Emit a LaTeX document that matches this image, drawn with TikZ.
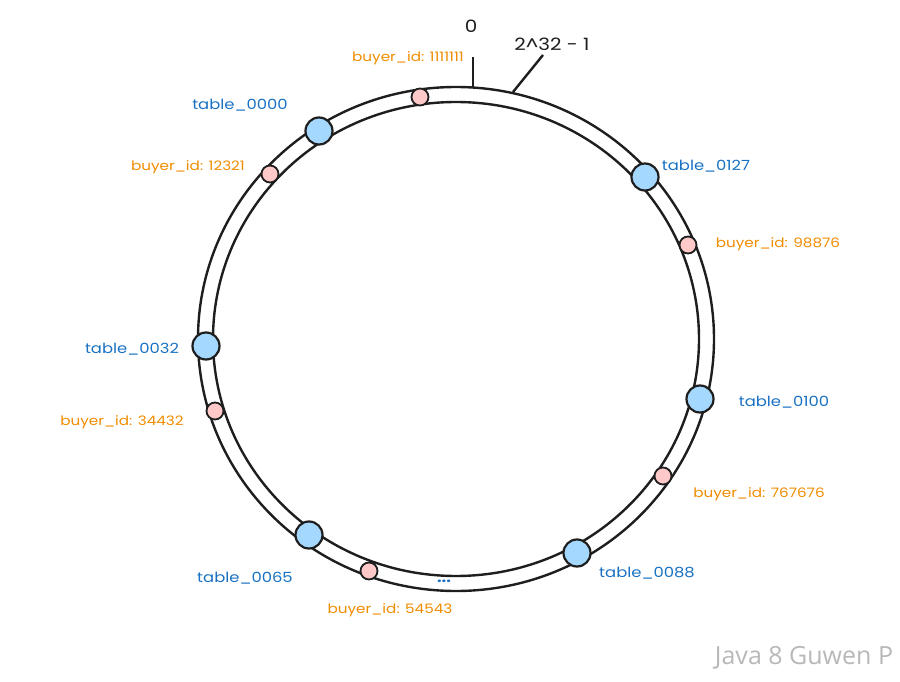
\documentclass[tikz,border=0pt]{standalone}
\usepackage{fontspec}
\setmainfont{Poppins}
\newfontfamily\handfont[FakeStretch=1.17]{Poppins}
\newfontfamily\wmfont{Open Sans}
\usepackage{tikz}

\definecolor{inkline}{RGB}{30,30,30}
\definecolor{tblfill}{RGB}{165,216,255}
\definecolor{keyfill}{RGB}{255,201,201}
\definecolor{tbltext}{RGB}{25,113,194}
\definecolor{keytext}{RGB}{240,140,0}

\tikzset{
  tbl/.style={circle, draw=inkline, fill=tblfill, line width=2.2pt, minimum size=27pt, inner sep=0pt},
  key/.style={circle, draw=inkline, fill=keyfill, line width=1.8pt, minimum size=17pt, inner sep=0pt},
  tbllabel/.style={inner sep=0.75pt, text=tbltext, font=\handfont\fontsize{14}{16}\selectfont},
  keylabel/.style={inner sep=0.75pt, text=keytext, font=\handfont\fontsize{13}{15}\selectfont},
  marklabel/.style={inner sep=0.75pt, text=inkline, font=\handfont\fontsize{17}{19}\selectfont},
}

\begin{document}
\begin{tikzpicture}[x=1pt,y=1pt,yscale=-1]
\useasboundingbox (0,0) rectangle (900,682);

%Shape: Ellipse [outer ring]
\draw [color=inkline, line width=2.4pt]  (456,339) ellipse (258 and 252);
%Shape: Ellipse [inner ring]
\draw [color=inkline, line width=2.4pt]  (456,339) ellipse (243 and 237);

%Straight Lines [zero mark]
\coordinate (zerotop) at (473,57);
\coordinate (zerobot) at (473,87);
\draw [color=inkline, line width=2.4pt]  (zerotop) -- (zerobot);
%Straight Lines [max mark]
\coordinate (maxtop) at (543,55);
\coordinate (maxbot) at (513,92);
\draw [color=inkline, line width=2.4pt]  (maxtop) -- (maxbot);

%Shape: Circle [tables]
\node [tbl] (t0000) at (319,131) {};
\node [tbl] (t0127) at (645,177) {};
\node [tbl] (t0032) at (206,346) {};
\node [tbl] (t0100) at (700,399) {};
\node [tbl] (t0088) at (577,553) {};
\node [tbl] (t0065) at (309,535) {};

%Shape: Circle [keys]
\node [key] (k1111111) at (420,97) {};
\node [key] (k12321) at (270,174) {};
\node [key] (k98876) at (688,245) {};
\node [key] (k34432) at (215,411) {};
\node [key] (k767676) at (663,476) {};
\node [key] (k54543) at (369,571) {};

% Text Node
\draw (471,26) node [marklabel] (zero) {0};
% Text Node
\draw (552,44) node [marklabel] (max) {2\^{}32 - 1};

% Text Node
\draw (240,105) node [tbllabel] (lt0000) {table\_0000};
\draw (706,166) node [tbllabel] (lt0127) {table\_0127};
\draw (132,349) node [tbllabel] (lt0032) {table\_0032};
\draw (784,402) node [tbllabel] (lt0100) {table\_0100};
\draw (647,573) node [tbllabel] (lt0088) {table\_0088};
\draw (245,578) node [tbllabel] (lt0065) {table\_0065};
\draw (444,581) node [tbllabel, font=\handfont\bfseries\fontsize{14}{16}\selectfont] (dots) {...};

% Text Node
\draw (408,58) node [keylabel] (lk1111111) {buyer\_id: 1111111};
\draw (188,167) node [keylabel] (lk12321) {buyer\_id: 12321};
\draw (778,244) node [keylabel] (lk98876) {buyer\_id: 98876};
\draw (122,422) node [keylabel] (lk34432) {buyer\_id: 34432};
\draw (759,494) node [keylabel] (lk767676) {buyer\_id: 767676};
\draw (390,610) node [keylabel] (lk54543) {buyer\_id: 54543};

% Text Node
\draw (804,658) node [inner sep=0.75pt, text=black!28, font=\wmfont\fontsize{25}{27}\selectfont] (mark) {Java 8 Guwen P};

\end{tikzpicture}
\end{document}
